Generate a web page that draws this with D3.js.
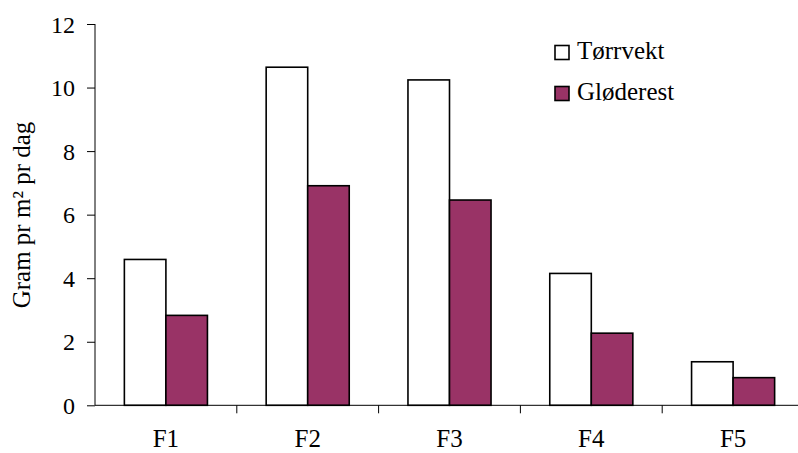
<!DOCTYPE html>
<html><head><meta charset="utf-8">
<script src="https://cdn.jsdelivr.net/npm/d3@7"></script>
<style>body{margin:0;background:#fff}svg{display:block}</style>
</head><body><svg id="c" width="798" height="453"></svg>
<script>
const categories = ["F1","F2","F3","F4","F5"];
const seriesNames = ["Tørrvekt","Gløderest"];
const torrvekt = [4.59, 10.64, 10.24, 4.15, 1.37];
const gloderest = [2.83, 6.91, 6.46, 2.27, 0.87];
const yTicks = [0,2,4,6,8,10,12];
const colors = ["#ffffff","#993366"];

(function(){
const FONT = "'Liberation Serif', 'Times New Roman', Times, 'DejaVu Serif', serif";
const svg = d3.select("#c");
const mLeft = 95, mRight = 804, mTop = 24, mBottom = 405.3;
const x = d3.scaleBand().domain(categories).range([mLeft,mRight]).paddingInner(0).paddingOuter(0);
const xs = d3.scaleBand().domain(seriesNames).range([0,x.bandwidth()]).paddingInner(0).paddingOuter(0.707);
const y = d3.scaleLinear().domain([0,12]).range([mBottom,mTop]);

const data = categories.map((c,i)=>({cat:c, vals:[torrvekt[i],gloderest[i]]}));
const g = svg.append("g");
g.selectAll("g.cat").data(data).join("g").attr("transform",d=>`translate(${x(d.cat)},0)`)
 .selectAll("rect").data(d=>d.vals.map((v,j)=>({v,j}))).join("rect")
 .attr("x",d=>xs(seriesNames[d.j])).attr("width",xs.bandwidth())
 .attr("y",d=>y(d.v)).attr("height",d=>y(0)-y(d.v))
 .attr("fill",d=>colors[d.j]).attr("stroke","#000").attr("stroke-width",1.6);

const ya = svg.append("g").attr("transform",`translate(${mLeft},0)`)
 .call(d3.axisLeft(y).tickValues(yTicks).tickSize(8).tickPadding(12).tickFormat(d3.format("d")));
ya.attr("font-family",null).attr("font-size",null);
ya.select(".domain").attr("d",`M0,${mTop}V${mBottom}`);
ya.selectAll("text").style("font-family",FONT).style("font-size","24px").style("fill","#000").attr("dy","0.34em");
ya.selectAll("line,path").attr("stroke","#000");

const xa = svg.append("g").attr("transform",`translate(0,${mBottom})`)
 .call(d3.axisBottom(x).tickSize(0).tickPadding(0));
xa.attr("font-family",null).attr("font-size",null);
xa.select(".domain").attr("d",`M${mLeft},0H${mRight}`).attr("stroke","#000");
xa.selectAll("text").attr("dy",null).attr("y",42).style("font-family",FONT).style("font-size","25px").style("fill","#000");
xa.selectAll(".sep").data(categories.slice(1)).join("line").attr("class","sep")
 .attr("x1",d=>x(d)).attr("x2",d=>x(d)).attr("y1",0).attr("y2",8).attr("stroke","#000");

svg.append("text").attr("transform","translate(30,215) rotate(-90)").attr("text-anchor","middle")
 .style("font-family",FONT).style("font-size","25px").text("Gram pr m² pr dag");

const lg = svg.append("g");
seriesNames.forEach((n,i)=>{
  const yy = 45.5 + i*41;
  lg.append("rect").attr("x",555).attr("y",yy).attr("width",14).attr("height",14)
    .attr("fill",colors[i]).attr("stroke","#000").attr("stroke-width",1.6);
  lg.append("text").attr("x",577).attr("y",yy+13.5).style("font-family",FONT).style("font-size","25px").text(n);
});
})();
</script></body></html>
